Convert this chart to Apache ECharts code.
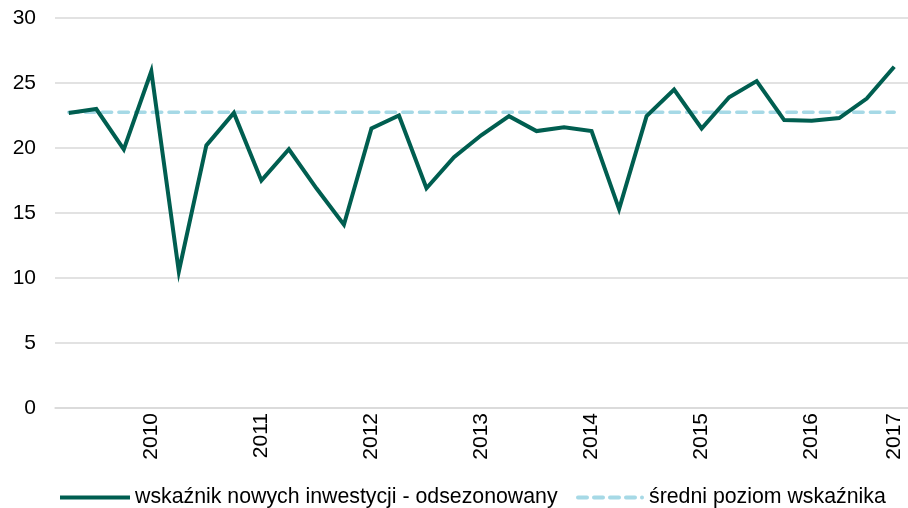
<!DOCTYPE html>
<html>
<head>
<meta charset="utf-8">
<script src="https://cdn.jsdelivr.net/npm/echarts@6/dist/echarts.min.js"></script>
<style>html,body{margin:0;padding:0;background:#fff}#c{width:908px;height:508px}</style>
</head>
<body>
<div id="c"></div>
<script>
var categories = ['2009Q2','2009Q3','2009Q4','2010Q1','2010Q2','2010Q3','2010Q4','2011Q1','2011Q2','2011Q3','2011Q4','2012Q1','2012Q2','2012Q3','2012Q4','2013Q1','2013Q2','2013Q3','2013Q4','2014Q1','2014Q2','2014Q3','2014Q4','2015Q1','2015Q2','2015Q3','2015Q4','2016Q1','2016Q2','2016Q3','2016Q4'];
var tickLabels = ['','','','2010','','','','2011','','','','2012','','','','2013','','','','2014','','','','2015','','','','2016','','','2017'];
var indexValues = [22.7,23.0,19.9,25.9,10.5,20.2,22.7,17.5,19.9,16.9,14.1,21.5,22.5,16.9,19.3,21.0,22.45,21.3,21.6,21.3,15.3,22.45,24.5,21.5,23.9,25.15,22.15,22.1,22.3,23.8,26.25];
var avgLevel = 22.75;
var avgValues = categories.map(function(){return avgLevel;});
var seriesNames = ['wskaźnik nowych inwestycji - odsezonowany','średni poziom wskaźnika'];
var yTicks = {min:0, max:30, interval:5};

var chart = echarts.init(document.getElementById('c'), null, {renderer:'canvas'});
var font = 'Liberation Sans, Arial, sans-serif';
var FS = 21;
var LFS = 21.3;
var dashIcon = 'path://M2,0h9a2,2 0 0 1 0,4h-9a2,2 0 0 1 0,-4z M18,0h9a2,2 0 0 1 0,4h-9a2,2 0 0 1 0,-4z M34,0h9a2,2 0 0 1 0,4h-9a2,2 0 0 1 0,-4z M50,0h9a2,2 0 0 1 0,4h-9a2,2 0 0 1 0,-4z M66,0a2,2 0 0 1 0,4a2,2 0 0 1 0,-4z';
chart.setOption({
  animation:false,
  backgroundColor:'#ffffff',
  grid:{left:55, top:18, width:856, height:390, containLabel:false},
  legend:[{
    data:[{name:seriesNames[0], icon:'rect'}], left:60, top:487, padding:0, itemWidth:70, itemHeight:4,
    textStyle:{fontFamily:font, fontSize:LFS, color:'#000'}
  },{
    data:[{name:seriesNames[1], icon:dashIcon}], left:576, top:487, padding:0, itemWidth:68, itemHeight:4,
    textStyle:{fontFamily:font, fontSize:LFS, color:'#000'}
  }],
  xAxis:{
    type:'category', data:categories, boundaryGap:true,
    axisLine:{show:true, lineStyle:{color:'#d9d9d9', width:1.5}},
    axisTick:{show:false},
    axisLabel:{interval:0, rotate:90, margin:5, fontFamily:font, fontSize:FS, color:'#000',
      formatter:function(v, i){return tickLabels[i];}}
  },
  yAxis:{
    type:'value', min:yTicks.min, max:yTicks.max, interval:yTicks.interval,
    axisLine:{show:false}, axisTick:{show:false},
    axisLabel:{margin:19, fontFamily:font, fontSize:FS, color:'#000'},
    splitLine:{lineStyle:{color:'#d9d9d9', width:1.5}}
  },
  series:[{
    name:seriesNames[1], type:'line', data:avgValues, symbol:'none', z:2,
    itemStyle:{color:'#a6d9e6'},
    lineStyle:{color:'#a6d9e6', width:3.5, type:[9.5,7.2], cap:'round'}
  },{
    name:seriesNames[0], type:'line', data:indexValues, symbol:'none', z:3,
    itemStyle:{color:'#005e50'},
    lineStyle:{color:'#005e50', width:4, join:'miter'}
  }]
});
</script>
</body>
</html>
